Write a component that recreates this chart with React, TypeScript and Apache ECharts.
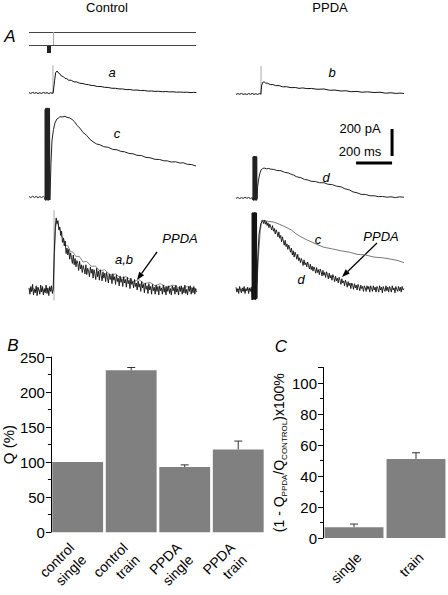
import React, { useEffect, useRef } from 'react';
import * as echarts from 'echarts';

const FONT = '"Liberation Sans", Arial, Helvetica, sans-serif';

// ---------- Panel A traces (time in ms, current in pA) ----------
const traceA: number[][] = [
  [0, 2], [10, -3], [20, 4], [30, -2], [40, 3], [50, -4], [60, 2], [70, -3], [80, 4], [90, -2], [100, 3], [110, -4], [120, 2], [128, -2], [134, 0],
  [142, 90], [148, 150], [156, 163], [162, 150], [170, 144], [180, 126], [190, 122], [200, 108], [210, 106], [220, 95], [235, 94], [250, 82],
  [265, 82], [280, 73], [300, 70], [315, 64], [330, 62], [345, 56], [360, 55], [380, 48], [400, 48], [420, 42], [440, 41], [460, 35], [480, 35],
  [500, 30], [520, 30], [540, 25], [560, 26], [580, 21], [600, 22], [620, 18], [640, 19], [660, 14], [680, 15], [700, 12], [720, 13], [740, 9],
  [760, 11], [780, 8], [800, 9], [820, 6], [840, 7], [860, 5], [880, 6], [900, 3], [915, 5], [930, 3],
];
const traceB: number[][] = [
  [0, -3], [10, 3], [20, -2], [30, 4], [40, -3], [50, 2], [60, -4], [70, 3], [80, -2], [90, 4], [100, -3], [110, 2], [120, -3], [130, 3], [138, 0],
  [142, 60], [148, 85], [156, 91], [165, 80], [175, 80], [190, 70], [205, 70], [220, 62], [240, 62], [260, 53], [280, 54], [306, 47], [330, 48],
  [350, 42], [370, 45], [394, 40], [420, 41], [450, 35], [489, 37], [520, 28], [550, 29], [583, 22], [610, 24], [640, 17], [672, 19], [700, 13],
  [730, 16], [767, 11], [800, 13], [830, 6], [861, 9], [890, 4], [910, 7], [933, 4],
];
const traceC: number[][] = [
  [0, 3], [10, -4], [20, 5], [30, -3], [40, 4], [50, -5], [60, 3], [70, -4], [80, 4], [86, -2],
  [89, -20], [90, 650], [92, -25], [94, 660], [96, -20], [98, 655], [100, -25], [102, 660], [104, -20], [106, 650], [108, -25], [110, 660],
  [112, -20], [114, 655], [116, -22],
  [118, 60], [122, 250], [128, 422], [136, 500], [144, 548], [155, 578], [165, 586], [172, 595], [185, 593], [200, 598], [211, 590], [225, 586],
  [239, 575], [253, 558], [267, 530], [283, 510], [300, 478], [320, 457], [340, 425], [356, 409], [375, 393], [394, 387], [415, 373], [440, 368],
  [465, 353], [489, 350], [510, 338], [530, 335], [555, 323], [578, 320], [600, 309], [625, 307], [650, 293], [672, 291], [700, 279], [725, 278],
  [750, 268], [767, 268], [790, 259], [815, 261], [840, 251], [856, 254], [880, 242], [905, 240], [928, 229],
];
const traceD: number[][] = [
  [0, -3], [10, 4], [20, -4], [30, 3], [40, -3], [50, 5], [60, -2], [70, 4], [80, -4], [90, 2],
  [94, -15], [95, 305], [97, -18], [99, 310], [101, -15], [103, 311], [105, -18], [107, 308], [109, -15], [111, 311], [113, -18], [115, 305], [117, -10],
  [120, 80], [125, 133], [132, 180], [139, 207], [148, 218], [156, 222], [170, 216], [182, 219], [194, 213], [210, 212], [225, 204], [250, 202],
  [270, 190], [290, 186], [306, 176], [320, 170], [335, 158], [361, 150], [380, 138], [400, 133], [417, 124], [440, 122], [465, 113], [489, 113],
  [510, 102], [535, 99], [560, 87], [583, 83], [605, 68], [630, 60], [650, 45], [672, 39], [695, 27], [720, 26], [745, 16], [767, 17], [790, 10],
  [815, 11], [840, 6], [861, 9], [885, 3], [910, 9], [933, 5],
];
// stimulus artifacts (ms, pA)
const artifactA: number[][] = [[133, -8], [133, 207]];
const artifactB: number[][] = [[139, -8], [139, 207]];

// normalised traces (peak = 1)
const traceANorm: number[][] = [
  [0, 0.02], [12, -0.03], [24, 0.03], [36, -0.02], [48, 0.03], [60, -0.03], [72, 0.02], [84, -0.03], [96, 0.03], [108, -0.02], [120, 0.03],
  [130, -0.02], [136, 0.0], [142, 0.55], [148, 0.9], [156, 0.99], [164, 0.91], [172, 0.87], [182, 0.76], [192, 0.74], [204, 0.64], [216, 0.63],
  [230, 0.55], [245, 0.54], [260, 0.48], [280, 0.48], [300, 0.4], [320, 0.41], [345, 0.34], [370, 0.34], [394, 0.27], [420, 0.29], [450, 0.22],
  [480, 0.23], [510, 0.17], [540, 0.19], [578, 0.12], [610, 0.15], [640, 0.09], [672, 0.11], [700, 0.06], [730, 0.09], [767, 0.04], [800, 0.07],
  [840, 0.02], [880, 0.05], [930, 0.01],
];
const traceBNorm: number[][] = [
  [0, 0.03], [5, -0.06], [10, 0.05], [15, -0.02], [20, 0.08], [25, -0.07], [30, 0.01], [35, -0.04], [40, 0.06], [45, -0.08], [50, 0.04], [55, 0.0],
  [60, -0.06], [65, 0.07], [70, -0.03], [75, 0.05], [80, -0.07], [85, 0.02], [90, -0.04], [95, 0.07], [100, -0.05], [105, 0.03], [110, -0.08],
  [115, 0.05], [120, -0.02], [125, 0.06], [130, -0.05], [134, 0.0],
  [140, 0.5], [146, 0.9], [151, 1.03], [156, 0.95], [161, 0.99], [166, 0.86], [171, 0.9], [176, 0.78], [181, 0.84], [186, 0.68], [191, 0.74],
  [196, 0.63], [201, 0.7], [206, 0.52], [211, 0.6], [216, 0.5], [221, 0.58], [226, 0.44], [231, 0.53], [236, 0.46], [241, 0.38], [246, 0.5],
  [251, 0.36], [256, 0.45], [261, 0.33], [266, 0.42], [271, 0.38], [276, 0.28], [281, 0.41], [286, 0.3], [291, 0.36], [296, 0.25], [301, 0.35],
  [306, 0.3], [311, 0.23], [316, 0.36], [321, 0.22], [326, 0.31], [331, 0.27], [336, 0.19], [341, 0.33], [346, 0.24], [351, 0.3], [356, 0.17],
  [361, 0.29], [366, 0.23], [371, 0.15], [376, 0.31], [381, 0.19], [386, 0.27], [391, 0.14], [396, 0.29], [401, 0.21], [406, 0.13], [411, 0.26],
  [416, 0.17], [421, 0.24], [426, 0.12], [431, 0.25], [436, 0.18], [441, 0.1], [446, 0.23], [451, 0.15], [456, 0.21], [461, 0.09], [466, 0.23],
  [471, 0.14], [476, 0.19], [481, 0.08], [486, 0.22], [491, 0.12], [496, 0.17], [501, 0.06], [506, 0.2], [511, 0.11], [516, 0.16], [521, 0.05],
  [526, 0.19], [531, 0.1], [536, 0.15], [541, 0.04], [546, 0.18], [551, 0.09], [556, 0.14], [561, 0.02], [566, 0.17], [571, 0.08], [576, 0.12],
  [581, 0.03], [586, 0.15], [591, 0.05], [596, 0.1], [601, 0.0], [606, 0.13], [611, 0.04], [616, 0.09], [621, -0.02], [626, 0.12], [631, 0.03],
  [636, 0.08], [641, -0.04], [646, 0.1], [651, 0.01], [656, 0.06], [661, -0.05], [666, 0.09], [671, 0.0], [676, 0.05], [681, -0.06], [686, 0.08],
  [691, -0.01], [696, 0.04], [701, -0.06], [706, 0.07], [711, -0.02], [716, 0.05], [721, -0.07], [726, 0.06], [731, -0.01], [736, 0.03],
  [741, -0.06], [746, 0.07], [751, -0.03], [756, 0.04], [761, -0.07], [766, 0.05], [771, -0.02], [776, 0.06], [781, -0.05], [786, 0.02],
  [791, -0.07], [796, 0.06], [801, -0.01], [806, 0.04], [811, -0.06], [816, 0.07], [821, -0.03], [826, 0.02], [831, -0.07], [836, 0.05],
  [841, -0.02], [846, 0.06], [851, -0.06], [856, 0.03], [861, -0.04], [866, 0.07], [871, -0.05], [876, 0.01], [881, -0.07], [886, 0.05],
  [891, -0.02], [896, 0.06], [901, -0.06], [906, 0.03], [911, -0.04], [916, 0.05], [921, -0.06], [926, 0.02], [930, -0.03],
];
const artifactNorm: number[][] = [[139, -0.15], [139, 1.14]];
const traceCNorm: number[][] = [
  [0, 0.0], [20, 0.01], [40, -0.01], [60, 0.01], [86, 0.0], [117, 0.1], [125, 0.5], [135, 0.85], [144, 1.0], [160, 0.99], [180, 0.98],
  [211, 0.97], [240, 0.94], [267, 0.91], [290, 0.88], [306, 0.86], [335, 0.8], [361, 0.76], [390, 0.72], [417, 0.69], [450, 0.65], [489, 0.61],
  [530, 0.59], [583, 0.56], [630, 0.54], [672, 0.51], [720, 0.5], [767, 0.47], [815, 0.46], [861, 0.44], [900, 0.42], [933, 0.39],
];
const traceDNorm: number[][] = [
  [0, 0.04], [5, -0.03], [10, 0.02], [15, -0.05], [20, 0.05], [25, 0.0], [30, -0.04], [35, 0.03], [40, -0.02], [45, 0.05], [50, -0.05], [55, 0.02],
  [60, -0.01], [65, 0.04], [70, -0.05], [75, 0.03], [80, -0.02], [85, 0.04],
  [89, -0.14], [90, 1.1], [92, -0.14], [94, 1.11], [96, -0.13], [98, 1.1], [100, -0.14], [102, 1.11], [104, -0.13], [106, 1.1], [108, -0.14],
  [110, 1.11], [112, -0.13], [114, 1.1], [116, -0.12],
  [120, 0.4], [128, 0.8], [138, 0.95], [148, 0.99], [153, 0.95], [158, 1.0], [163, 0.94], [168, 0.98], [173, 0.92], [178, 0.96], [183, 0.89],
  [188, 0.94], [193, 0.9], [198, 0.86], [203, 0.92], [208, 0.84], [213, 0.88], [218, 0.8], [223, 0.86], [228, 0.82], [233, 0.76], [238, 0.83],
  [243, 0.74], [248, 0.78], [253, 0.69], [258, 0.76], [263, 0.7], [268, 0.64], [273, 0.71], [278, 0.62], [283, 0.66], [288, 0.58], [293, 0.64],
  [298, 0.6], [303, 0.54], [308, 0.6], [313, 0.5], [318, 0.56], [323, 0.47], [328, 0.54], [333, 0.5], [338, 0.44], [343, 0.51], [348, 0.42],
  [353, 0.46], [358, 0.39], [363, 0.45], [368, 0.41], [373, 0.35], [378, 0.43], [383, 0.36], [388, 0.39], [393, 0.33], [398, 0.4], [403, 0.35],
  [408, 0.3], [413, 0.37], [418, 0.29], [423, 0.34], [428, 0.27], [433, 0.33], [438, 0.3], [443, 0.24], [448, 0.32], [453, 0.25], [458, 0.29],
  [463, 0.22], [468, 0.3], [473, 0.26], [478, 0.2], [483, 0.28], [488, 0.21], [493, 0.25], [498, 0.18], [503, 0.26], [508, 0.22], [513, 0.16],
  [518, 0.24], [523, 0.17], [528, 0.21], [533, 0.14], [538, 0.22], [543, 0.18], [548, 0.12], [553, 0.2], [558, 0.13], [563, 0.17], [568, 0.1],
  [573, 0.18], [578, 0.14], [583, 0.08], [588, 0.16], [593, 0.1], [598, 0.13], [603, 0.06], [608, 0.14], [613, 0.1], [618, 0.04], [623, 0.12],
  [628, 0.06], [633, 0.1], [638, 0.02], [643, 0.1], [648, 0.07], [653, 0.01], [658, 0.09], [663, 0.03], [668, 0.07], [673, 0.0], [678, 0.08],
  [683, 0.04], [688, -0.01], [693, 0.07], [698, 0.02], [703, 0.05], [708, -0.02], [713, 0.06], [718, 0.03], [723, -0.02], [728, 0.06],
  [733, 0.01], [738, 0.05], [743, -0.03], [748, 0.06], [753, 0.02], [758, -0.02], [763, 0.06], [768, 0.0], [773, 0.04], [778, -0.03],
  [783, 0.05], [788, 0.02], [793, -0.03], [798, 0.06], [803, 0.0], [808, 0.04], [813, -0.04], [818, 0.05], [823, 0.01], [828, -0.02],
  [833, 0.06], [838, -0.01], [843, 0.04], [848, -0.03], [853, 0.05], [858, 0.02], [863, -0.03], [868, 0.06], [873, 0.0], [878, 0.03],
  [883, -0.04], [888, 0.05], [893, 0.01], [898, -0.02], [903, 0.05], [908, -0.01], [913, 0.04], [918, -0.03], [923, 0.05], [928, 0.0], [933, 0.02],
];
// scale bars: 200 pA, 200 ms
const scaleBarPA = 200;
const scaleBarMs = 200;

// ---------- Panel B ----------
const bCategories = ['control\nsingle', 'control\ntrain', 'PPDA\nsingle', 'PPDA\ntrain'];
const bValues = [100, 231, 93, 118];
const bErrors = [0, 4, 3, 12];
const bTicks = [0, 50, 100, 150, 200, 250];

// ---------- Panel C ----------
const cCategories = ['single', 'train'];
const cValues = [7, 51];
const cErrors = [2, 4];

// ---------- layout ----------
const X_MAX = 930;
const COL_LEFT = [29, 236];
const COL_WIDTH = 167.4;
const ROWS = [
  { top: 58, bottom: 102, base: [93, 94], ppu: 0.135 },
  { top: 102, bottom: 206, base: [197, 198], ppu: 0.135 },
  { top: 206, bottom: 306, base: [290, 290], ppu: 70 },
];
const SCALE_ANCHOR = { ms: 867, pAVert: 311, pAHoriz: 259 };

function arrow(tx: number, ty: number, hx: number, hy: number): any[] {
  const dx = hx - tx, dy = hy - ty;
  const len = Math.sqrt(dx * dx + dy * dy);
  const ux = dx / len, uy = dy / len;
  const L = 8, W = 3;
  const bx = hx - ux * L, by = hy - uy * L;
  return [
    { type: 'line', shape: { x1: tx, y1: ty, x2: bx, y2: by }, style: { stroke: '#000', lineWidth: 1.3 } },
    {
      type: 'polygon',
      shape: { points: [[hx, hy], [bx - uy * W, by + ux * W], [bx + uy * W, by - ux * W]] },
      style: { fill: '#000' },
    },
  ];
}

function txt(x: number, y: number, text: string, size: number, italic = false, align = 'center'): any {
  return {
    type: 'text',
    x,
    y,
    style: {
      text,
      fill: '#000',
      font: `${italic ? 'italic ' : ''}${size}px ${FONT}`,
      fontSize: size,
      fontStyle: italic ? 'italic' : 'normal',
      fontFamily: FONT,
      align,
      verticalAlign: 'middle',
      textAlign: align,
      textVerticalAlign: 'middle',
    },
  };
}

export default function App() {
  const ref = useRef<HTMLDivElement>(null);
  useEffect(() => {
    if (!ref.current) return;
    const chart = echarts.init(ref.current, null, { renderer: 'svg' });

    const grids: any[] = [];
    const xAxes: any[] = [];
    const yAxes: any[] = [];
    ROWS.forEach((r, ri) => {
      [0, 1].forEach((ci) => {
        grids.push({ left: COL_LEFT[ci], top: r.top, width: COL_WIDTH, height: r.bottom - r.top });
        xAxes.push({ type: 'value', gridIndex: ri * 2 + ci, min: 0, max: X_MAX, show: false });
        yAxes.push({
          type: 'value',
          gridIndex: ri * 2 + ci,
          min: -(r.bottom - r.base[ci]) / r.ppu,
          max: (r.base[ci] - r.top) / r.ppu,
          show: false,
        });
      });
    });

    // Panel B grid (index 6)
    grids.push({ left: 48, top: 357, width: 217, height: 181 });
    xAxes.push({
      type: 'category',
      gridIndex: 6,
      data: bCategories,
      axisLine: { show: false },
      axisTick: { show: false },
      axisLabel: { rotate: 45, interval: 0, fontSize: 14, color: '#000', fontFamily: FONT, lineHeight: 17, margin: 19 },
    });
    yAxes.push({
      type: 'value',
      gridIndex: 6,
      min: bTicks[0],
      max: bTicks[bTicks.length - 1],
      interval: bTicks[1] - bTicks[0],
      axisLine: { show: true, lineStyle: { color: '#000', width: 1 } },
      axisTick: { show: true, length: 5, lineStyle: { color: '#000' } },
      minorTick: { show: true, splitNumber: 2, length: 3, lineStyle: { color: '#000' } },
      splitLine: { show: false },
      axisLabel: { fontSize: 15, color: '#000', fontFamily: FONT, margin: 6 },
      name: 'Q (%)',
      nameLocation: 'middle',
      nameGap: 31,
      nameTextStyle: { fontSize: 15, color: '#000', fontFamily: FONT },
    });

    // Panel C grid (index 7)
    grids.push({ left: 323, top: 367.5, width: 124, height: 170.5 });
    xAxes.push({
      type: 'category',
      gridIndex: 7,
      data: cCategories,
      axisLine: { show: false },
      axisTick: { show: false },
      axisLabel: { rotate: 45, interval: 0, fontSize: 14, color: '#000', fontFamily: FONT, margin: 12, verticalAlign: 'top' },
    });
    yAxes.push({
      type: 'value',
      gridIndex: 7,
      min: 0,
      max: 110,
      interval: 20,
      axisLine: { show: true, lineStyle: { color: '#000', width: 1 } },
      axisTick: { show: true, length: 5, lineStyle: { color: '#000' } },
      minorTick: { show: true, splitNumber: 2, length: 3, lineStyle: { color: '#000' } },
      splitLine: { show: false },
      axisLabel: { fontSize: 15, color: '#000', fontFamily: FONT, margin: 6, showMaxLabel: false },
      name: '{n|(1 - Q}{s|PPDA}{n|/Q}{s|CONTROL}{n|)x100%}',
      nameLocation: 'middle',
      nameGap: 28,
      nameTextStyle: {
        color: '#000',
        fontFamily: FONT,
        rich: {
          n: { fontSize: 14, lineHeight: 18, color: '#000', fontFamily: FONT },
          s: { fontSize: 8, verticalAlign: 'bottom', color: '#000', fontFamily: FONT },
        },
      },
    });

    const line = (gi: number, data: number[][], color: string, width = 1, z = 2) => ({
      type: 'line',
      xAxisIndex: gi,
      yAxisIndex: gi,
      data,
      symbol: 'none',
      showSymbol: false,
      silent: true,
      lineStyle: { color, width },
      z,
    });

    const errRender = (_p: any, api: any) => {
      const e = api.value(2);
      if (!e) return { type: 'group', children: [] };
      const p0 = api.coord([api.value(0), api.value(1)]);
      const p1 = api.coord([api.value(0), api.value(1) + e]);
      return {
        type: 'group',
        children: [
          { type: 'line', shape: { x1: p0[0], y1: p0[1], x2: p1[0], y2: p1[1] }, style: { stroke: '#333', lineWidth: 1 } },
          { type: 'line', shape: { x1: p1[0] - 4, y1: p1[1], x2: p1[0] + 4, y2: p1[1] }, style: { stroke: '#333', lineWidth: 1 } },
        ],
      };
    };

    const series: any[] = [
      line(0, artifactA, '#aaa'),
      line(0, traceA, '#111', 1, 3),
      line(1, artifactB, '#aaa'),
      line(1, traceB, '#111', 1, 3),
      line(2, traceC, '#222', 1, 3),
      line(3, traceD, '#222', 1, 3),
      line(3, [[SCALE_ANCHOR.ms, SCALE_ANCHOR.pAVert], [SCALE_ANCHOR.ms, SCALE_ANCHOR.pAVert + scaleBarPA]], '#000', 3),
      line(3, [[SCALE_ANCHOR.ms - scaleBarMs, SCALE_ANCHOR.pAHoriz], [SCALE_ANCHOR.ms, SCALE_ANCHOR.pAHoriz]], '#000', 3),
      line(4, artifactNorm, '#aaa'),
      line(4, traceANorm, '#888', 1, 2),
      line(4, traceBNorm, '#111', 0.9, 3),
      line(5, traceCNorm, '#777', 1, 2),
      line(5, traceDNorm, '#111', 0.9, 3),
      {
        type: 'bar',
        xAxisIndex: 6,
        yAxisIndex: 6,
        data: bValues,
        barCategoryGap: '5%',
        itemStyle: { color: '#808080' },
        silent: true,
      },
      {
        type: 'custom',
        xAxisIndex: 6,
        yAxisIndex: 6,
        data: bValues.map((v, i) => [i, v, bErrors[i]]),
        encode: { x: 0, y: 1 },
        renderItem: errRender,
        silent: true,
        z: 5,
      },
      {
        type: 'bar',
        xAxisIndex: 7,
        yAxisIndex: 7,
        data: cValues,
        barCategoryGap: '5%',
        itemStyle: { color: '#808080' },
        silent: true,
      },
      {
        type: 'custom',
        xAxisIndex: 7,
        yAxisIndex: 7,
        data: cValues.map((v, i) => [i, v, cErrors[i]]),
        encode: { x: 0, y: 1 },
        renderItem: errRender,
        silent: true,
        z: 5,
      },
    ];

    const graphic: any[] = [
      txt(107, 7, 'Control', 13),
      txt(330, 7, 'PPDA', 13),
      txt(10, 36, 'A', 17, true),
      txt(13, 345, 'B', 17, true),
      txt(281, 346, 'C', 17, true),
      // stimulus diagram
      { type: 'line', shape: { x1: 29, y1: 32.5, x2: 196, y2: 32.5 }, style: { stroke: '#444', lineWidth: 1 } },
      { type: 'line', shape: { x1: 29, y1: 45.5, x2: 196, y2: 45.5 }, style: { stroke: '#444', lineWidth: 1 } },
      { type: 'line', shape: { x1: 53.5, y1: 32, x2: 53.5, y2: 45 }, style: { stroke: '#aaa', lineWidth: 1 } },
      { type: 'rect', shape: { x: 47, y: 46, width: 4, height: 7 }, style: { fill: '#222' } },
      // trace labels
      txt(112, 72, 'a', 13, true),
      txt(332, 72, 'b', 13, true),
      txt(117, 133, 'c', 13, true),
      txt(326, 177, 'd', 13, true),
      txt(124, 259, 'a,b', 13, true),
      txt(180, 238, 'PPDA', 13, true),
      txt(318, 239, 'c', 13, true),
      txt(301, 279, 'd', 13, true),
      txt(381, 236, 'PPDA', 13, true),
      txt(360, 128, '200 pA', 13),
      txt(360, 151, '200 ms', 13),
      ...arrow(157, 252, 137, 280),
      ...arrow(377, 243, 342, 277),
    ];

    chart.setOption({
      animation: false,
      textStyle: { fontFamily: FONT },
      grid: grids,
      xAxis: xAxes,
      yAxis: yAxes,
      series,
      graphic,
    });
    return () => chart.dispose();
  }, []);
  return (
    <div
      ref={ref}
      style={{ position: 'absolute', left: 0, top: 0, width: 448, height: 595, background: '#fff' }}
    />
  );
}
